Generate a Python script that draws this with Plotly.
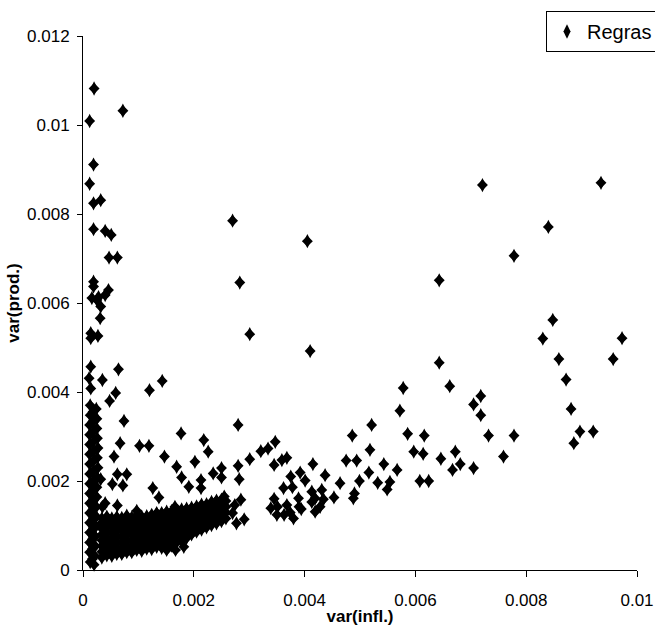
import plotly.graph_objects as go

# Dense vertical column near x = 0  (x, y)
pontos_coluna = [
    (0.13e-3, 3.70e-3), (0.24e-3, 3.62e-3), (0.13e-3, 3.48e-3), (0.25e-3, 3.40e-3),
    (0.12e-3, 3.26e-3), (0.25e-3, 3.18e-3), (0.12e-3, 3.04e-3), (0.26e-3, 2.96e-3),
    (0.12e-3, 2.82e-3), (0.27e-3, 2.74e-3), (0.12e-3, 2.60e-3), (0.26e-3, 2.52e-3),
    (0.12e-3, 2.38e-3), (0.27e-3, 2.30e-3), (0.12e-3, 2.16e-3), (0.26e-3, 2.08e-3),
    (0.12e-3, 1.94e-3), (0.25e-3, 1.86e-3), (0.12e-3, 1.72e-3), (0.25e-3, 1.64e-3),
    (0.12e-3, 1.50e-3), (0.24e-3, 1.42e-3), (0.12e-3, 1.28e-3), (0.24e-3, 1.20e-3),
    (0.12e-3, 1.06e-3), (0.23e-3, 0.98e-3), (0.12e-3, 0.84e-3), (0.22e-3, 0.76e-3),
    (0.12e-3, 0.62e-3), (0.22e-3, 0.54e-3), (0.12e-3, 0.40e-3), (0.21e-3, 0.32e-3),
    (0.13e-3, 0.18e-3), (0.20e-3, 0.12e-3),
    (0.18e-3, 3.55e-3), (0.18e-3, 3.33e-3), (0.19e-3, 3.11e-3), (0.19e-3, 2.89e-3),
    (0.19e-3, 2.67e-3), (0.19e-3, 2.45e-3), (0.19e-3, 2.23e-3), (0.19e-3, 2.01e-3),
    (0.18e-3, 1.79e-3), (0.18e-3, 1.57e-3), (0.18e-3, 1.35e-3), (0.18e-3, 1.13e-3),
    (0.18e-3, 0.91e-3), (0.17e-3, 0.69e-3), (0.17e-3, 0.47e-3), (0.17e-3, 0.25e-3),
]

# Dense band along the bottom: (x, [y values at that x])
colunas_faixa = [
    (0.34e-3, [0.28e-3, 0.41e-3, 0.54e-3, 0.67e-3, 0.80e-3, 0.93e-3, 1.06e-3, 1.16e-3]),
    (0.43e-3, [0.33e-3, 0.46e-3, 0.59e-3, 0.72e-3, 0.85e-3, 0.98e-3, 1.11e-3, 1.20e-3]),
    (0.52e-3, [0.32e-3, 0.45e-3, 0.58e-3, 0.71e-3, 0.84e-3, 0.97e-3, 1.10e-3, 1.16e-3]),
    (0.61e-3, [0.36e-3, 0.49e-3, 0.62e-3, 0.75e-3, 0.88e-3, 1.01e-3, 1.14e-3, 1.19e-3]),
    (0.70e-3, [0.36e-3, 0.49e-3, 0.62e-3, 0.75e-3, 0.88e-3, 1.01e-3, 1.14e-3, 1.17e-3]),
    (0.79e-3, [0.40e-3, 0.53e-3, 0.66e-3, 0.79e-3, 0.92e-3, 1.05e-3, 1.18e-3, 1.22e-3]),
    (0.88e-3, [0.40e-3, 0.53e-3, 0.66e-3, 0.79e-3, 0.92e-3, 1.05e-3, 1.18e-3]),
    (0.97e-3, [0.45e-3, 0.58e-3, 0.71e-3, 0.84e-3, 0.97e-3, 1.10e-3, 1.23e-3]),
    (1.06e-3, [0.43e-3, 0.56e-3, 0.69e-3, 0.82e-3, 0.95e-3, 1.08e-3, 1.20e-3]),
    (1.15e-3, [0.48e-3, 0.61e-3, 0.74e-3, 0.87e-3, 1.00e-3, 1.13e-3, 1.21e-3]),
    (1.24e-3, [0.47e-3, 0.60e-3, 0.73e-3, 0.86e-3, 0.99e-3, 1.12e-3, 1.24e-3]),
    (1.33e-3, [0.52e-3, 0.65e-3, 0.78e-3, 0.91e-3, 1.04e-3, 1.17e-3, 1.26e-3]),
    (1.42e-3, [0.50e-3, 0.63e-3, 0.76e-3, 0.89e-3, 1.02e-3, 1.15e-3, 1.28e-3]),
    (1.51e-3, [0.56e-3, 0.69e-3, 0.82e-3, 0.95e-3, 1.08e-3, 1.21e-3, 1.31e-3]),
    (1.60e-3, [0.55e-3, 0.68e-3, 0.81e-3, 0.94e-3, 1.07e-3, 1.20e-3, 1.32e-3]),
    (1.69e-3, [0.62e-3, 0.75e-3, 0.88e-3, 1.01e-3, 1.14e-3, 1.27e-3, 1.34e-3]),
    (1.78e-3, [0.64e-3, 0.77e-3, 0.90e-3, 1.03e-3, 1.16e-3, 1.29e-3, 1.36e-3]),
    (1.87e-3, [0.72e-3, 0.85e-3, 0.98e-3, 1.11e-3, 1.24e-3, 1.38e-3]),
    (1.96e-3, [0.80e-3, 0.93e-3, 1.06e-3, 1.19e-3, 1.32e-3, 1.40e-3]),
    (2.05e-3, [0.86e-3, 0.99e-3, 1.12e-3, 1.25e-3, 1.38e-3, 1.43e-3]),
    (2.14e-3, [0.91e-3, 1.04e-3, 1.17e-3, 1.30e-3, 1.43e-3, 1.47e-3]),
    (2.23e-3, [0.96e-3, 1.09e-3, 1.22e-3, 1.35e-3, 1.48e-3]),
    (2.32e-3, [1.01e-3, 1.14e-3, 1.27e-3, 1.40e-3, 1.53e-3]),
    (2.41e-3, [1.05e-3, 1.18e-3, 1.31e-3, 1.44e-3, 1.56e-3]),
    (2.50e-3, [1.10e-3, 1.23e-3, 1.36e-3, 1.49e-3, 1.58e-3]),
    (2.58e-3, [1.16e-3, 1.29e-3, 1.42e-3, 1.55e-3]),
]

# Scattered points (x, y)
pontos_dispersos = [
    (0.20e-3, 10.82e-3), (0.72e-3, 10.32e-3), (0.12e-3, 10.09e-3), (0.19e-3, 9.11e-3),
    (0.12e-3, 8.68e-3), (0.19e-3, 8.24e-3), (0.32e-3, 8.31e-3),
    (0.19e-3, 7.66e-3), (0.40e-3, 7.62e-3), (0.51e-3, 7.53e-3), (0.47e-3, 7.02e-3), (0.62e-3, 7.02e-3),
    (0.19e-3, 6.48e-3), (0.19e-3, 6.37e-3), (0.46e-3, 6.29e-3), (0.40e-3, 6.18e-3), (0.16e-3, 6.11e-3),
    (0.25e-3, 6.07e-3), (0.28e-3, 6.13e-3), (0.32e-3, 5.92e-3), (0.31e-3, 5.66e-3),
    (0.14e-3, 5.32e-3), (0.27e-3, 5.26e-3), (0.14e-3, 5.21e-3), (0.14e-3, 4.57e-3), (0.64e-3, 4.51e-3),
    (0.11e-3, 4.31e-3), (0.35e-3, 4.27e-3), (0.14e-3, 4.08e-3),
    (1.20e-3, 4.04e-3), (1.43e-3, 4.25e-3), (0.59e-3, 3.98e-3), (0.48e-3, 3.80e-3), (0.74e-3, 3.35e-3),
    (1.77e-3, 3.07e-3), (2.80e-3, 3.26e-3),
    (0.67e-3, 2.85e-3), (1.02e-3, 2.79e-3), (1.19e-3, 2.79e-3), (0.56e-3, 2.55e-3), (1.47e-3, 2.55e-3),
    (2.18e-3, 2.92e-3), (2.26e-3, 2.66e-3), (2.02e-3, 2.43e-3), (1.69e-3, 2.32e-3), (1.78e-3, 2.08e-3),
    (2.35e-3, 2.17e-3), (2.50e-3, 2.29e-3), (2.50e-3, 2.08e-3), (2.80e-3, 2.34e-3), (2.82e-3, 2.04e-3),
    (3.01e-3, 2.49e-3), (3.21e-3, 2.67e-3), (3.34e-3, 2.73e-3), (3.47e-3, 2.88e-3), (3.45e-3, 2.36e-3),
    (3.59e-3, 2.47e-3), (3.68e-3, 2.52e-3), (3.75e-3, 2.10e-3), (3.92e-3, 2.19e-3), (4.15e-3, 2.38e-3),
    (4.37e-3, 2.13e-3), (4.01e-3, 2.01e-3), (3.78e-3, 1.86e-3), (3.62e-3, 1.84e-3), (4.13e-3, 1.76e-3),
    (4.31e-3, 1.80e-3), (3.89e-3, 1.61e-3), (3.45e-3, 1.60e-3), (3.39e-3, 1.39e-3), (3.68e-3, 1.46e-3),
    (3.94e-3, 1.37e-3), (4.13e-3, 1.53e-3), (4.28e-3, 1.42e-3), (3.50e-3, 1.24e-3), (3.63e-3, 1.24e-3),
    (3.74e-3, 1.29e-3), (3.51e-3, 1.42e-3), (4.19e-3, 1.61e-3), (3.90e-3, 1.42e-3), (4.19e-3, 1.31e-3),
    (3.80e-3, 1.16e-3), (4.34e-3, 1.59e-3),
    (2.85e-3, 1.58e-3), (2.91e-3, 1.14e-3), (2.77e-3, 1.05e-3), (2.70e-3, 1.28e-3), (2.74e-3, 1.46e-3),
    (2.55e-3, 1.65e-3),
    (1.26e-3, 1.84e-3), (1.37e-3, 1.63e-3), (1.91e-3, 1.87e-3), (2.13e-3, 2.02e-3), (2.13e-3, 1.84e-3),
    (0.62e-3, 2.15e-3), (0.79e-3, 2.15e-3), (0.53e-3, 1.93e-3), (0.72e-3, 1.90e-3), (0.32e-3, 2.04e-3),
    (0.62e-3, 1.45e-3), (0.35e-3, 1.42e-3), (0.40e-3, 1.50e-3),
    (1.82e-3, 0.52e-3), (1.67e-3, 0.45e-3), (1.51e-3, 0.45e-3),
    (0.97e-3, 1.33e-3), (1.33e-3, 1.28e-3), (1.66e-3, 1.42e-3),
    (4.53e-3, 1.63e-3), (4.64e-3, 1.95e-3), (4.75e-3, 2.46e-3), (4.88e-3, 1.61e-3), (4.90e-3, 1.72e-3),
    (4.94e-3, 2.46e-3), (4.99e-3, 2.00e-3), (5.16e-3, 2.19e-3), (5.18e-3, 2.70e-3), (5.32e-3, 1.96e-3),
    (5.43e-3, 2.38e-3), (5.49e-3, 1.81e-3), (5.54e-3, 1.98e-3), (5.67e-3, 2.25e-3), (5.97e-3, 2.66e-3),
    (6.08e-3, 2.00e-3), (6.14e-3, 2.61e-3), (6.24e-3, 2.00e-3), (6.46e-3, 2.50e-3), (6.67e-3, 2.25e-3),
    (6.72e-3, 2.66e-3), (6.81e-3, 2.38e-3), (7.05e-3, 2.29e-3), (7.59e-3, 2.55e-3),
    (2.70e-3, 7.85e-3), (4.05e-3, 7.39e-3), (7.21e-3, 8.65e-3), (9.35e-3, 8.70e-3), (8.40e-3, 7.71e-3),
    (7.78e-3, 7.06e-3), (2.83e-3, 6.46e-3), (6.43e-3, 6.51e-3), (3.01e-3, 5.30e-3), (4.10e-3, 4.92e-3),
    (8.48e-3, 5.62e-3), (8.30e-3, 5.20e-3), (9.73e-3, 5.21e-3), (8.59e-3, 4.74e-3), (9.57e-3, 4.74e-3),
    (6.43e-3, 4.66e-3), (8.72e-3, 4.28e-3), (5.78e-3, 4.09e-3), (6.62e-3, 4.13e-3), (7.18e-3, 3.91e-3),
    (7.05e-3, 3.72e-3), (7.18e-3, 3.48e-3), (5.72e-3, 3.58e-3), (8.81e-3, 3.62e-3), (5.21e-3, 3.26e-3),
    (4.86e-3, 3.02e-3), (5.86e-3, 3.06e-3), (6.16e-3, 3.02e-3), (7.32e-3, 3.02e-3), (7.78e-3, 3.02e-3),
    (8.97e-3, 3.11e-3), (9.21e-3, 3.11e-3), (8.86e-3, 2.85e-3),
]

x_tick_vals = [0, 0.002, 0.004, 0.006, 0.008, 0.01]
x_tick_text = ["0", "0.002", "0.004", "0.006", "0.008", "0.01"]
y_tick_vals = [0, 0.002, 0.004, 0.006, 0.008, 0.01, 0.012]
y_tick_text = ["0", "0.002", "0.004", "0.006", "0.008", "0.01", "0.012"]

pontos_faixa = [(x, y) for x, ys_col in colunas_faixa for y in ys_col]
todos = pontos_coluna + pontos_faixa + pontos_dispersos
xs = [p[0] for p in todos]
ys = [p[1] for p in todos]

FONT = "Liberation Sans, Arial, sans-serif"

fig = go.Figure()
fig.add_trace(go.Scatter(
    x=xs, y=ys, mode="markers", showlegend=False, cliponaxis=False,
    marker=dict(symbol="diamond", size=8.4, color="#000000", line=dict(width=0)),
    hoverinfo="skip"))
fig.add_trace(go.Scatter(
    x=xs, y=ys, mode="markers", name="Regras", cliponaxis=False,
    marker=dict(symbol="diamond-tall", size=10.2, color="#000000", line=dict(width=0))))

axis_common = dict(
    showline=True, linecolor="#000000", linewidth=1, mirror=False, automargin=False,
    showgrid=False, zeroline=False, ticks="outside", tickcolor="#000000",
    tickwidth=1, tickfont=dict(family=FONT, size=17, color="#000000"),
)

fig.update_layout(
    width=655, height=637,
    margin=dict(l=83, r=18, t=36, b=67, autoexpand=False),
    paper_bgcolor="white", plot_bgcolor="white",
    xaxis=dict(range=[0, 0.01], tickvals=x_tick_vals, ticktext=x_tick_text, ticklen=6,
               ticklabelstandoff=9,
               title=dict(text="<b>var(infl.)</b>", font=dict(family=FONT, size=17, color="#000000"),
                          standoff=0),
               **axis_common),
    yaxis=dict(range=[0, 0.012], tickvals=y_tick_vals, ticktext=y_tick_text, ticklen=5,
               ticklabelstandoff=4,
               title=dict(text="<b>var(prod.)</b>", font=dict(family=FONT, size=17, color="#000000"),
                          standoff=3),
               **axis_common),
    legend=dict(xref="container", yref="container", x=546/655, xanchor="left",
                y=1 - 11/637, yanchor="top", bordercolor="#000000", borderwidth=1,
                bgcolor="white", font=dict(family=FONT, size=20, color="#000000")),
    font=dict(family=FONT, color="#000000"),
)

fig.write_html("out.html")
